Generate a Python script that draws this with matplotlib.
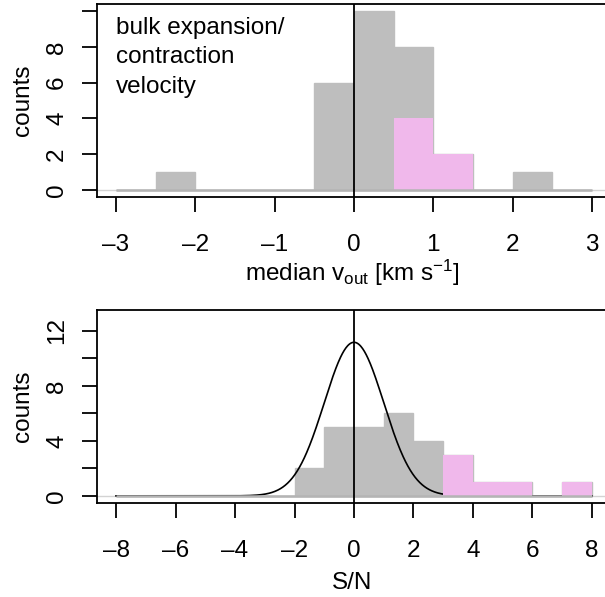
import numpy as np
import matplotlib
matplotlib.use("Agg")
import matplotlib.pyplot as plt

plt.rcParams['font.family'] = ['Liberation Sans', 'DejaVu Sans']
plt.rcParams['mathtext.fontset'] = 'custom'
plt.rcParams['mathtext.rm'] = 'Liberation Sans'
plt.rcParams['mathtext.it'] = 'Liberation Sans:italic'
plt.rcParams['font.size'] = 17.5

# top panel: median outflow velocity histogram (bin edges, counts)
v_edges = [-3.0, -2.5, -2.0, -1.5, -1.0, -0.5, 0.0, 0.5, 1.0, 1.5, 2.0, 2.5, 3.0]
v_all = [0, 1, 0, 0, 0, 6, 10, 8, 2, 0, 1, 0]
v_sig = [0, 0, 0, 0, 0, 0, 0, 4, 2, 0, 0, 0]
v_ticks = [-3, -2, -1, 0, 1, 2, 3]

# bottom panel: S/N histogram
sn_edges = [-8, -7, -6, -5, -4, -3, -2, -1, 0, 1, 2, 3, 4, 5, 6, 7, 8]
sn_all = [0, 0, 0, 0, 0, 0, 2, 5, 5, 6, 4, 3, 1, 1, 0, 1]
sn_sig = [0, 0, 0, 0, 0, 0, 0, 0, 0, 0, 0, 3, 1, 1, 0, 1]
sn_ticks = [-8, -6, -4, -2, 0, 2, 4, 6, 8]

# expected noise distribution: N * binwidth * normal(0, 1)
gauss_n = 28
gauss_mu = 0.0
gauss_sigma = 1.0

GRAY = '#BEBEBE'
PINK = '#F0B8EB'
LW = 1.3

fig = plt.figure(figsize=(6.05, 5.97), dpi=100)
left, width = 97 / 605, 514 / 605
ax1 = fig.add_axes([left, 400 / 597, width, 193 / 597])
ax2 = fig.add_axes([left, 94 / 597, width, 193 / 597])


def hist(ax, edges, counts, color, lw, z):
    e = np.asarray(edges, dtype=float)
    ax.bar(e[:-1], counts, width=np.diff(e), align='edge', color=color,
           edgecolor=color, linewidth=lw, zorder=z)


def baseline(ax, edges):
    ax.hlines(0, edges[0], edges[-1], color='#B4B4B4', lw=1.8, zorder=5)


def style(ax, xticks, yticks, ylabels):
    for s in ax.spines.values():
        s.set_linewidth(LW)
    ax.set_xticks(xticks)
    ax.set_xticklabels([str(t).replace('-', '\u2013') for t in xticks])
    ax.set_yticks(yticks)
    ax.set_yticklabels([str(t) if t in ylabels else '' for t in yticks],
                       rotation=90, va='center')
    ax.tick_params(direction='out', length=10.8, width=LW)
    ax.tick_params(axis='x', pad=16)
    ax.tick_params(axis='y', pad=10)
    ax.axhline(0, color='#D3D3D3', lw=1.0, zorder=1)
    ax.axvline(0, color='black', lw=LW, zorder=6)


# top panel
hist(ax1, v_edges, v_all, GRAY, 1.0, 2)
hist(ax1, v_edges, v_sig, PINK, 0, 3)
baseline(ax1, v_edges)
ax1.set_xlim(-3.24, 3.24)
ax1.set_ylim(-0.4, 10.4)
style(ax1, v_ticks, [0, 2, 4, 6, 8, 10], [0, 2, 4, 6, 8])
ax1.set_xlabel(r'median v$_\mathrm{out}$ [km s$^{-1}$]', va='center')
ax1.xaxis.set_label_coords(0.497, -76 / 193)
ax1.set_ylabel('counts', va='center')
ax1.yaxis.set_label_coords(-74 / 514, 0.5)
ax1.text(-3.0, 9.7, 'bulk expansion/\ncontraction\nvelocity',
         ha='left', va='top', linespacing=1.45)

# bottom panel
hist(ax2, sn_edges, sn_all, GRAY, 1.0, 2)
xs = np.linspace(sn_edges[0], sn_edges[-1], 800)
binw = sn_edges[1] - sn_edges[0]
ys = gauss_n * binw * np.exp(-0.5 * ((xs - gauss_mu) / gauss_sigma) ** 2) / (gauss_sigma * np.sqrt(2 * np.pi))
ax2.plot(xs, ys, color='black', lw=1.2, zorder=3)
hist(ax2, sn_edges, sn_sig, PINK, 0, 4)
baseline(ax2, sn_edges)
ax2.set_xlim(-8.64, 8.64)
ax2.set_ylim(-0.52, 13.52)
style(ax2, sn_ticks, [0, 2, 4, 6, 8, 10, 12], [0, 4, 8, 12])
ax2.set_xlabel('S/N', va='center')
ax2.xaxis.set_label_coords(0.497, -80 / 193)
ax2.set_ylabel('counts', va='center')
ax2.yaxis.set_label_coords(-74 / 514, 0.5)

fig.savefig('out.png', dpi=100)
